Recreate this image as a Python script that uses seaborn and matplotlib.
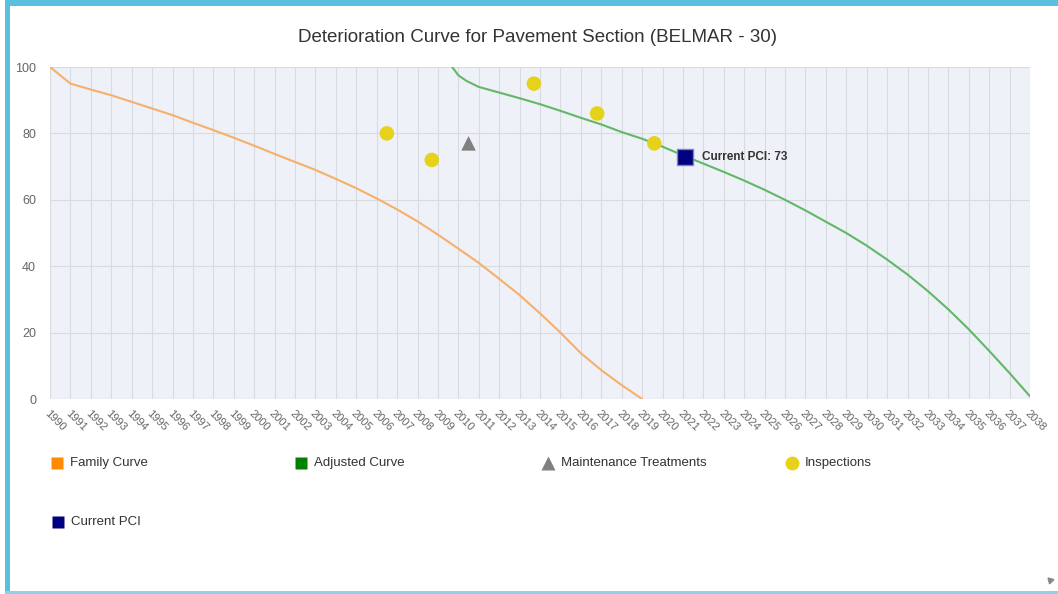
import numpy as np
import pandas as pd
import matplotlib
matplotlib.use("Agg")
import matplotlib.pyplot as plt
from matplotlib.patches import Rectangle
from matplotlib.lines import Line2D
import seaborn as sns

# ---- data ----
family_years = [1990, 1991, 1992, 1993, 1994, 1995, 1996, 1997, 1998, 1999, 2000,
                2001, 2002, 2003, 2004, 2005, 2006, 2007, 2008, 2009, 2010, 2011,
                2012, 2013, 2014, 2015, 2016, 2017, 2018, 2019]
family_pci = [100, 95, 93.2, 91.5, 89.5, 87.5, 85.5, 83.2, 81, 78.7, 76.3,
              73.8, 71.4, 69, 66.3, 63.5, 60.4, 57.1, 53.5, 49.5, 45.3, 41,
              36.2, 31.3, 25.8, 20, 13.8, 8.7, 4.2, 0]

adjusted_years = [2009.7, 2010, 2010.4, 2011, 2012, 2013, 2014, 2015, 2016, 2017,
                  2018, 2019, 2020, 2021, 2022, 2023, 2024, 2025, 2026, 2027,
                  2028, 2029, 2030, 2031, 2032, 2033, 2034, 2035, 2036, 2037, 2038]
adjusted_pci = [100, 97.5, 95.8, 94, 92.3, 90.6, 88.8, 86.8, 84.7, 82.7,
                80.4, 78.4, 76, 73.4, 70.9, 68.4, 65.8, 63, 60, 56.8,
                53.4, 50, 46.2, 42, 37.5, 32.5, 27, 21, 14.5, 7.8, 0.8]

inspection_years = [2006.5, 2008.7, 2013.7, 2016.8, 2019.6]
inspection_pci = [80, 72, 95, 86, 77]

treatment_years = [2010.5]
treatment_pci = [77]

current_year = 2021.1
current_pci = 73

title = "Deterioration Curve for Pavement Section (BELMAR - 30)"
legend_labels = ["Family Curve", "Adjusted Curve", "Maintenance Treatments", "Inspections", "Current PCI"]

family_df = pd.DataFrame({"year": family_years, "pci": family_pci})
adjusted_df = pd.DataFrame({"year": adjusted_years, "pci": adjusted_pci})
insp_df = pd.DataFrame({"year": inspection_years, "pci": inspection_pci})
treat_df = pd.DataFrame({"year": treatment_years, "pci": treatment_pci})

sns.set_style("white")
plt.rcParams['font.family'] = ['Liberation Sans', 'DejaVu Sans']

W, H = 1058, 594
fig = plt.figure(figsize=(W / 100, H / 100), dpi=100)
fig.patch.set_facecolor("white")

# plot area in pixels: left 50, right 1030, top 67, bottom 399
ax = fig.add_axes([50 / W, 1 - 399 / H, 980 / W, 332 / H])
ax.set_facecolor("#EEF1F7")

sns.lineplot(data=family_df, x="year", y="pci", ax=ax, color="#F6B06A", linewidth=1.5)
sns.lineplot(data=adjusted_df, x="year", y="pci", ax=ax, color="#62B866", linewidth=1.5)
sns.scatterplot(data=insp_df, x="year", y="pci", ax=ax, color="#E6D21A", s=110,
                marker="o", edgecolor="none", zorder=5)
sns.scatterplot(data=treat_df, x="year", y="pci", ax=ax, color="#808080", s=110,
                marker="^", edgecolor="none", zorder=5)
ax.scatter([current_year], [current_pci], marker="s", s=120, color="#000080",
           edgecolor="#8080C8", linewidth=1, zorder=6)
ax.annotate(f"Current PCI: {current_pci}", (current_year, current_pci),
            xytext=(12, 0), textcoords="offset points", ha="left", va="center",
            fontsize=8.5, fontweight="bold", color="#333333")

ax.set_xlim(1990, 2038)
ax.set_ylim(0, 100)
ax.set_xticks(range(1990, 2039))
ax.set_xticklabels([str(y) for y in range(1990, 2039)], rotation=-45,
                   ha="left", va="top", rotation_mode="anchor")
ax.set_yticks(range(0, 101, 20))
ax.tick_params(axis="x", length=4, color="#D8DBE0", labelsize=8, labelcolor="#666666", pad=3)
ax.tick_params(axis="y", length=0, labelsize=9, labelcolor="#666666", pad=10)
ax.grid(True, color="#D8DBE0", linewidth=0.8)
ax.set_axisbelow(True)
for s in ax.spines.values():
    s.set_visible(False)
ax.set_xlabel("")
ax.set_ylabel("")
if ax.get_legend():
    ax.get_legend().remove()

fig.text(537 / W, 1 - 37 / H, title, ha="center", va="center", fontsize=13.5, color="#333333")

# legend drawn on an overlay in pixel coordinates
ov = fig.add_axes([0, 0, 1, 1])
ov.set_xlim(0, W)
ov.set_ylim(H, 0)
ov.axis("off")
ov.patch.set_alpha(0)

legend_markers = ["s", "s", "^", "o", "s"]
legend_colors = ["#FF8C00", "#008000", "#808080", "#E6D21A", "#000080"]
legend_pos = [(57, 463), (301, 463), (548, 463), (792, 463), (58, 522)]
for lab, m, c, (px, py) in zip(legend_labels, legend_markers, legend_colors, legend_pos):
    ov.add_line(Line2D([px], [py], marker=m, markersize=10 if m != "s" else 9,
                       color=c, markeredgecolor="none", linestyle="none"))
    ov.text(px + 13, py, lab, ha="left", va="center", fontsize=9.5, color="#333333")

# cyan frame
ov.add_patch(Rectangle((5, 0), 5, H, color="#5BC0DE", lw=0))
ov.add_patch(Rectangle((5, 0), W, 6, color="#5BC0DE", lw=0))
ov.add_patch(Rectangle((5, 591), W, 3, color="#8ED2E8", lw=0))
ov.add_line(Line2D([1050], [580], marker=(3, 0, 45), markersize=5, color="#888888",
                   linestyle="none"))

fig.savefig("out.png", dpi=100)
